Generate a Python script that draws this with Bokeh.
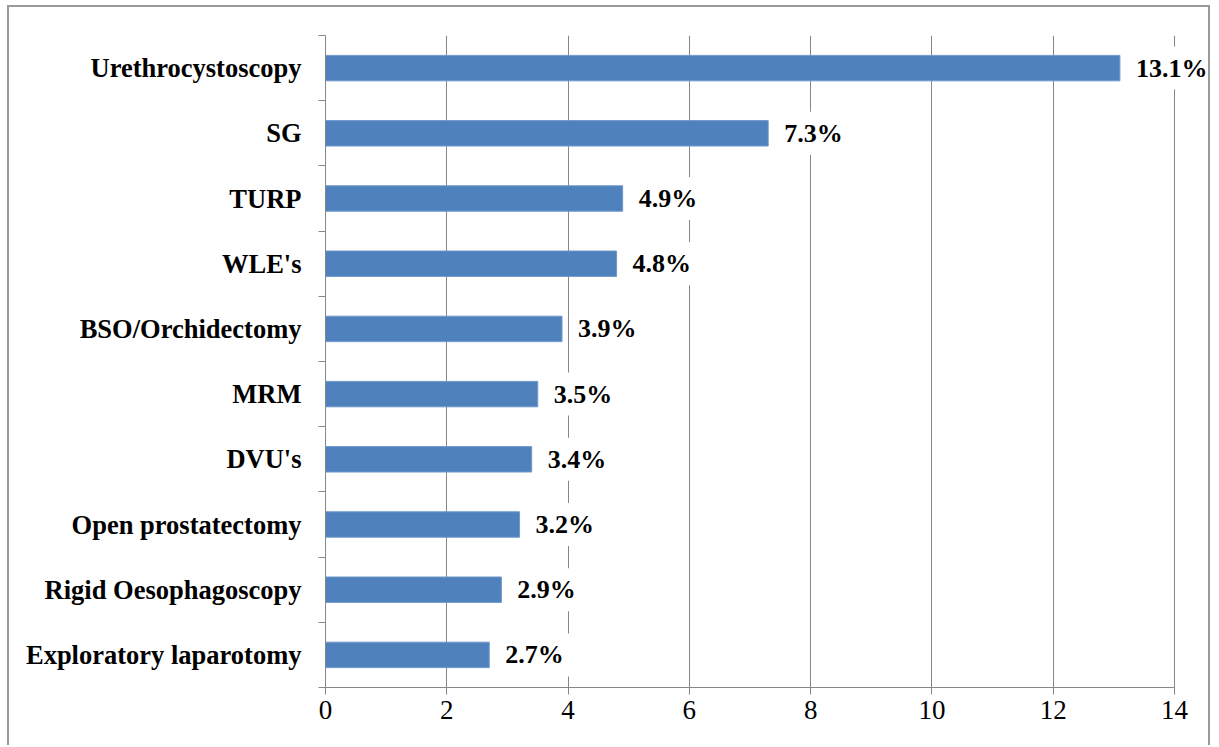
from bokeh.plotting import figure
from bokeh.models import ColumnDataSource, FixedTicker, Range1d, Label
from bokeh.embed import file_html
from bokeh.resources import INLINE

categories = ["Urethrocystoscopy", "SG", "TURP", "WLE's", "BSO/Orchidectomy",
              "MRM", "DVU's", "Open prostatectomy", "Rigid Oesophagoscopy",
              "Exploratory laparotomy"]
values = [13.1, 7.3, 4.9, 4.8, 3.9, 3.5, 3.4, 3.2, 2.9, 2.7]
x_ticks = [0, 2, 4, 6, 8, 10, 12, 14]

n = len(categories)
pos = [n - i - 0.5 for i in range(n)]
labels = [f"{v:.1f}%" for v in values]
src = ColumnDataSource(dict(cat=categories, val=values, y=pos, lab=labels))

GRAY = "#878787"
SERIF = "'Liberation Serif', 'Times New Roman', serif"

# frame spans 887 px; the axis 0..14 takes 849 px of it, room on the right for labels
x_max = x_ticks[-1] * 887 / 849

p = figure(width=1203, height=740, output_backend="svg", toolbar_location=None,
           x_range=Range1d(0, x_max), y_range=Range1d(0, n),
           min_border_left=316, min_border_right=0, min_border_top=28,
           min_border_bottom=60, margin=(5, 0, 0, 7))
p.styles = {"border-left": "2px solid #9a9a9a", "border-top": "2px solid #9a9a9a",
            "border-right": "2px solid #9a9a9a"}
p.outline_line_color = None
p.background_fill_color = "white"
p.border_fill_color = "white"

p.hbar(y="y", right="val", left=0, height=0.39, source=src,
       fill_color="#4F81BD", line_color="#6f98cc", line_width=1)

for v, y, t in zip(values, pos, labels):
    p.add_layout(Label(x=v, y=y, text=t, x_offset=16 - 7,
                       text_baseline="middle", text_align="left",
                       text_font=SERIF, text_font_style="bold",
                       text_font_size="26px", text_color="black",
                       background_fill_color="white", padding=7))

# x axis
p.xaxis.ticker = FixedTicker(ticks=x_ticks)
p.xaxis.bounds = (x_ticks[0], x_ticks[-1])
p.xaxis.axis_line_color = GRAY
p.xaxis.major_tick_line_color = GRAY
p.xaxis.major_tick_out = 7
p.xaxis.major_tick_in = 0
p.xaxis.minor_tick_line_color = None
p.xaxis.major_label_text_font = SERIF
p.xaxis.major_label_text_font_size = "27px"
p.xaxis.major_label_text_color = "black"
p.xaxis.major_label_standoff = 6

# y axis: labels at centers, ticks at category boundaries
p.yaxis.ticker = FixedTicker(ticks=pos, minor_ticks=list(range(n + 1)))
p.yaxis.major_label_overrides = {y: c for y, c in zip(pos, categories)}
p.yaxis.axis_line_color = GRAY
p.yaxis.major_tick_line_color = None
p.yaxis.major_tick_out = 0
p.yaxis.major_tick_in = 0
p.yaxis.minor_tick_line_color = GRAY
p.yaxis.minor_tick_out = 7
p.yaxis.minor_tick_in = 0
p.yaxis.major_label_text_font = SERIF
p.yaxis.major_label_text_font_style = "bold"
p.yaxis.major_label_text_font_size = "26.5px"
p.yaxis.major_label_text_color = "black"
p.yaxis.major_label_standoff = 17

p.xgrid.ticker = FixedTicker(ticks=x_ticks)
p.xgrid.grid_line_color = GRAY
p.ygrid.grid_line_color = None

open("out.html", "w").write(file_html(p, INLINE))
